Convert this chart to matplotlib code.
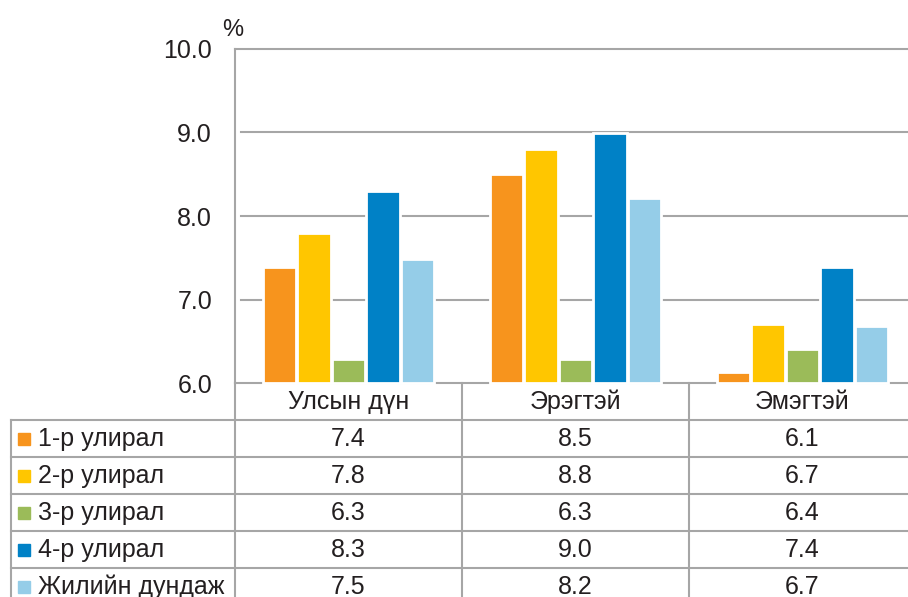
import matplotlib
matplotlib.use("Agg")
import matplotlib.pyplot as plt

plt.rcParams['font.family'] = ['Liberation Sans', 'DejaVu Sans']

categories = ["Улсын дүн", "Эрэгтэй", "Эмэгтэй"]
series_names = ["1-р улирал", "2-р улирал", "3-р улирал", "4-р улирал", "Жилийн дундаж"]
q1 = [7.385, 8.505, 6.14]
q2 = [7.795, 8.805, 6.705]
q3 = [6.285, 6.285, 6.405]
q4 = [8.295, 8.995, 7.395]
avg = [7.49, 8.215, 6.685]
series_values = [q1, q2, q3, q4, avg]
colors = ["#F7941D", "#FFC600", "#9BBB59", "#0081C6", "#95CDE8"]
yticks = [6.0, 7.0, 8.0, 9.0, 10.0]

W, H = 908, 597
fig = plt.figure(figsize=(W / 100, H / 100), dpi=100)

px_left, px_right = 235, 916
px_top, px_bot = 48.7, 383.3
ax = fig.add_axes([px_left / W, (H - px_bot) / H, (px_right - px_left) / W, (px_bot - px_top) / H])

grid_c = "#A6A6A6"
text_c = "#231F20"
fs = 18

ax.set_xlim(-0.5, 2.5)
ax.set_ylim(6.0, 10.0)

pitch = 0.152
bw = 0.148
for i, (vals, col) in enumerate(zip(series_values, colors)):
    xs = [c + (i - 2) * pitch for c in range(len(categories))]
    ax.bar(xs, [v - 6.0 for v in vals], bottom=6.0, width=bw, color=col,
           edgecolor="white", linewidth=2, zorder=3, clip_on=False)

for y in yticks[1:-1]:
    ax.axhline(y, xmin=6 / 681, xmax=1, color=grid_c, lw=1.5, zorder=1)

ax.spines["right"].set_visible(False)
for s in ["left", "bottom", "top"]:
    ax.spines[s].set_color(grid_c)
    ax.spines[s].set_linewidth(1.5)

ax.set_xticks([])
ax.set_yticks(yticks)
ax.set_yticklabels([f"{t:.1f}" for t in yticks], fontsize=fs, color=text_c)
ax.tick_params(axis="y", length=0, pad=16.5)
ax.text(-0.004, 1.056, "%", transform=ax.transAxes, ha="center", va="center",
        fontsize=17, color=text_c)

# data table
row_h = 37
n_rows = 1 + len(series_names)
tax = fig.add_axes([11 / W, (H - px_bot - n_rows * row_h) / H, (px_right - 11) / W, n_rows * row_h / H])
x_left = -0.5 - (px_left - 11) / 227.0
tax.set_xlim(x_left, 2.5)
tax.set_ylim(n_rows, 0)
tax.axis("off")

for r in range(1, n_rows + 1):
    tax.plot([x_left, 2.5], [r, r], color=grid_c, lw=1.5, clip_on=False)
tax.plot([x_left, x_left], [1, n_rows], color=grid_c, lw=1.5, clip_on=False)
for xb in [-0.5, 0.5, 1.5]:
    tax.plot([xb, xb], [0, n_rows], color=grid_c, lw=1.5, clip_on=False)

for c, cat in enumerate(categories):
    tax.text(c, 0.5, cat, ha="center", va="center", fontsize=fs, color=text_c)

for r, (name, vals, col) in enumerate(zip(series_names, series_values, colors), start=1):
    tax.plot([x_left + 13 / 227.0], [r + 0.5], marker="s", markersize=9.2, color=col,
             linestyle="none", clip_on=False)
    tax.text(x_left + 27 / 227.0, r + 0.5, name, ha="left", va="center", fontsize=fs, color=text_c)
    for c, v in enumerate(vals):
        tax.text(c, r + 0.5, f"{v:.1f}", ha="center", va="center", fontsize=fs, color=text_c)

fig.savefig("out.png", dpi=100)
